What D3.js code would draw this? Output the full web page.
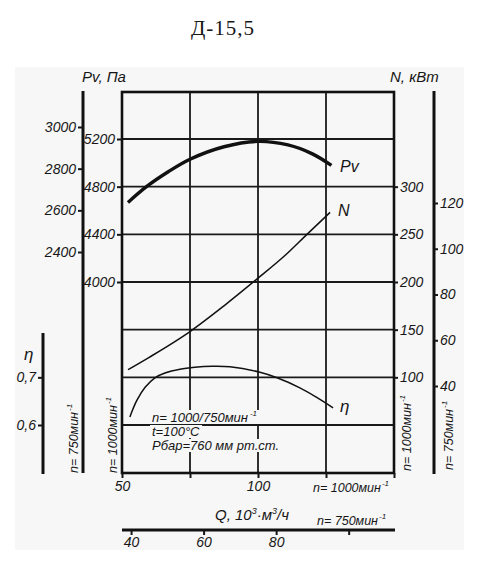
<!DOCTYPE html>
<html lang="ru">
<head>
  <meta charset="UTF-8">
  <title>Д-15,5</title>
  <style>
    body { margin: 0; background: #fff; }
    svg { display: block; }
    text { font-family: 'Liberation Sans', Arial, sans-serif; font-style: italic; fill: #161616; }
    .title { font-family: 'Liberation Serif', 'Times New Roman', serif; font-style: normal; font-size: 21px; }
    .tick text { font-size: 14px; }
    .tick line { stroke: #161616; stroke-width: 2; }
    .grid line { stroke: #1a1a1a; stroke-width: 1.8; }
    .axisline { stroke: #111; stroke-width: 3; }
  </style>
</head>
<body>
  <div id="chart"></div>

  <script src="https://d3js.org/d3.v7.min.js"></script>
  <script>
    // Q in 10^3 m3/h at n=1000 rpm
    const pvQ   = [52.2, 59, 67, 75, 87.5, 100, 111, 120, 127];
    const pvVal = [4668, 4800, 4925, 5030, 5135, 5180, 5150, 5075, 4978];

    const nQ   = [52.2, 60, 75, 87.5, 100, 110, 118, 126.5];
    const nVal = [108, 121, 148, 175, 204, 228, 250, 273];

    const etaQ   = [52.9, 55.5, 58.5, 62.1, 65.8, 71.3, 76.8, 83.1, 89.7, 100.4, 107, 115.4, 121.3, 127.6];
    const etaVal = [0.617, 0.652, 0.679, 0.699, 0.709, 0.717, 0.721, 0.723, 0.722, 0.711, 0.699, 0.678, 0.659, 0.636];

    const pvTicks     = [4000, 4400, 4800, 5200];
    const pv750Ticks  = [2400, 2600, 2800, 3000];
    const nTicks      = [100, 150, 200, 250, 300];
    const n750Ticks   = [40, 60, 80, 100, 120];
    const etaTicks    = [0.6, 0.7];
    const qTicks      = [50, 75, 100, 125, 150];
    const qLabels     = [50, 100];
    const q750Ticks   = [40, 60, 80, 100];
    const q750Labels  = [40, 60, 80];
    const gridPv      = [5200, 4800, 4400, 4000, 3600, 3200, 2800];
    const gridQ       = [75, 100, 125];
    const notes       = ['n= 1000/750мин', 't=100°C', 'Рбар=760 мм рт.ст.'];

    const W = 486, H = 571;
    const box = { left: 122, right: 394, top: 92, bottom: 473 };

    const svg = d3.select('#chart').append('svg').attr('width', W).attr('height', H);
    svg.append('rect').attr('width', W).attr('height', H).attr('fill', '#fff');
    svg.append('rect').attr('x', 15).attr('y', 67).attr('width', 449).attr('height', 483).attr('fill', '#f7f7f7');

    const x    = d3.scaleLinear().domain([50, 150]).range([box.left, box.right]);
    const x750 = d3.scaleLinear().domain([37.5, 112.5]).range([box.left, box.right]);
    const yPv    = d3.scaleLinear().domain([4000, 5200]).range([282, 139]);
    const yPv750 = d3.scaleLinear().domain([2400, 3000]).range([252, 127]);
    const yN     = d3.scaleLinear().domain([100, 300]).range([yPv(3200), yPv(4800)]);
    const yN750  = d3.scaleLinear().domain([40, 120]).range([386, 203]);
    const yEta   = d3.scaleLinear().domain([0.6, 0.7]).range([yPv(2800), yPv(3200)]);

    svg.append('text').attr('class', 'title').attr('x', 223).attr('y', 35)
      .attr('text-anchor', 'middle').attr('letter-spacing', 1).text('Д-15,5');

    // grid
    const grid = svg.append('g').attr('class', 'grid');
    grid.selectAll('.h').data(gridPv).enter().append('line')
      .attr('x1', box.left).attr('x2', box.right)
      .attr('y1', d => yPv(d)).attr('y2', d => yPv(d));
    grid.selectAll('.v').data(gridQ).enter().append('line')
      .attr('x1', d => x(d)).attr('x2', d => x(d))
      .attr('y1', box.top).attr('y2', box.bottom);

    // notes with knock-out behind each line
    const noteG = svg.append('g');
    notes.forEach((t, i) => {
      const tx = noteG.append('text').attr('x', 152).attr('y', 422 + i * 14).attr('font-size', 13).text(t);
      if (i === 0) tx.append('tspan').attr('font-size', 8).attr('dy', -6).attr('dx', 2).text('-1');
      const bb = tx.node().getBBox();
      noteG.insert('rect', 'text').attr('x', bb.x - 2).attr('y', bb.y + 1)
        .attr('width', bb.width + 4).attr('height', bb.height - 2).attr('fill', '#f7f7f7');
    });

    svg.append('rect').attr('x', box.left).attr('y', box.top)
      .attr('width', box.right - box.left).attr('height', box.bottom - box.top)
      .attr('fill', 'none').attr('stroke', '#111').attr('stroke-width', 2.6);

    // axes
    function clean(g) { g.select('.domain').remove(); g.selectAll('text').attr('fill', '#161616'); }
    const plain = d3.format('d');
    const comma = d => String(d).replace('.', ',');

    svg.append('g').attr('transform', `translate(${box.left},0)`)
      .call(d3.axisLeft(yPv).tickValues(pvTicks).tickSize(5).tickPadding(2).tickFormat(plain)).call(clean);
    svg.append('g').attr('transform', `translate(${box.right},0)`)
      .call(d3.axisRight(yN).tickValues(nTicks).tickSize(4).tickPadding(2).tickFormat(plain)).call(clean);
    svg.append('g').attr('transform', `translate(0,${box.bottom})`)
      .call(d3.axisBottom(x).tickValues(qTicks).tickSize(5).tickPadding(3)
        .tickFormat(d => qLabels.includes(d) ? d : '')).call(clean);

    svg.append('line').attr('class', 'axisline').attr('x1', 83).attr('x2', 83).attr('y1', 91).attr('y2', 473);
    svg.append('g').attr('transform', 'translate(83,0)')
      .call(d3.axisLeft(yPv750).tickValues(pv750Ticks).tickSize(5).tickPadding(2).tickFormat(plain)).call(clean);

    svg.append('line').attr('class', 'axisline').attr('x1', 43).attr('x2', 43).attr('y1', 333).attr('y2', 474);
    svg.append('g').attr('transform', 'translate(43,0)')
      .call(d3.axisLeft(yEta).tickValues(etaTicks).tickSize(5).tickPadding(2).tickFormat(comma)).call(clean);

    svg.append('line').attr('class', 'axisline').attr('x1', 434).attr('x2', 434).attr('y1', 91).attr('y2', 474);
    svg.append('g').attr('transform', 'translate(434,0)')
      .call(d3.axisRight(yN750).tickValues(n750Ticks).tickSize(4).tickPadding(2).tickFormat(plain)).call(clean);

    svg.append('line').attr('class', 'axisline').attr('x1', 122).attr('x2', 395).attr('y1', 530).attr('y2', 530);
    svg.append('g').attr('transform', 'translate(0,530)')
      .call(d3.axisBottom(x750).tickValues(q750Ticks).tickSize(5).tickPadding(2)
        .tickFormat(d => q750Labels.includes(d) ? d : '')).call(clean);

    // curves
    const curve = d3.curveCatmullRom.alpha(0.5);
    const pvLine = d3.line().x((d, i) => x(pvQ[i])).y(d => yPv(d)).curve(curve);
    const nLine = d3.line().x((d, i) => x(nQ[i])).y(d => yN(d)).curve(d3.curveMonotoneX);
    const etaLine = d3.line().x((d, i) => x(etaQ[i])).y(d => yEta(d)).curve(curve);

    svg.append('path').datum(pvVal).attr('d', pvLine).attr('fill', 'none').attr('stroke', '#111').attr('stroke-width', 3.4);
    svg.append('path').datum(nVal).attr('d', nLine).attr('fill', 'none').attr('stroke', '#111').attr('stroke-width', 1.5);
    svg.append('path').datum(etaVal).attr('d', etaLine).attr('fill', 'none').attr('stroke', '#111').attr('stroke-width', 1.5);

    svg.append('text').attr('x', 340).attr('y', 172).attr('font-size', 16).text('Pv');
    svg.append('text').attr('x', 338).attr('y', 216).attr('font-size', 16).text('N');
    svg.append('text').attr('x', 340).attr('y', 412).attr('font-size', 17).text('η');
    svg.append('text').attr('x', 24).attr('y', 360).attr('font-size', 17).text('η');

    // axis titles
    svg.append('text').attr('x', 82).attr('y', 82).attr('font-size', 15).text('Pv, Па');
    svg.append('text').attr('x', 390).attr('y', 82).attr('font-size', 15).text('N, кВт');

    const q = svg.append('text').attr('x', 215).attr('y', 520).attr('font-size', 15).text('Q, 10');
    q.append('tspan').attr('font-size', 9).attr('dy', -6).text('3');
    q.append('tspan').attr('dy', 6).text('·м');
    q.append('tspan').attr('font-size', 9).attr('dy', -6).text('3');
    q.append('tspan').attr('dy', 6).text('/ч');

    function rpm(g, txt, px, py, rot, size) {
      const t = g.append('text').attr('font-size', size)
        .attr('transform', `translate(${px},${py})` + (rot ? ' rotate(-90)' : ''));
      t.append('tspan').text(txt);
      t.append('tspan').attr('font-size', 8).attr('dy', -6).attr('dx', 1).text('-1');
    }
    rpm(svg, 'n= 1000мин', 313, 492, false, 12.5);
    rpm(svg, 'n= 750мин', 317, 525, false, 12.5);
    rpm(svg, 'n= 750мин', 78, 473, true, 12.5);
    rpm(svg, 'n= 1000мин', 117, 473, true, 12.5);
    rpm(svg, 'n= 1000мин', 411, 471, true, 12.5);
    rpm(svg, 'n= 750мин', 453, 470, true, 12.5);
  </script>
</body>
</html>
